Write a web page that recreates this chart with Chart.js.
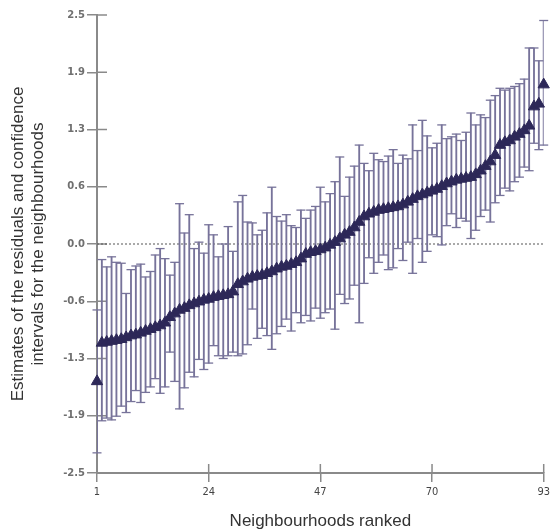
<!DOCTYPE html>
<html>
<head>
<meta charset="utf-8">
<script src="https://cdn.jsdelivr.net/npm/chart.js@4.4.1/dist/chart.umd.min.js"></script>
<style>
  body { margin: 0; background: #fff; }
  #wrap { width: 554px; height: 532px; }
</style>
</head>
<body>
<div id="wrap"><canvas id="c"></canvas></div>
<script>
// ranked neighbourhoods 1..93
const rank = Array.from({ length: 93 }, (_, i) => i + 1)

// residual estimates (triangles)
const est = [
  -1.50, -1.08, -1.07, -1.06, -1.05, -1.04, -1.02, -1.00, -0.99, -0.97,
  -0.95, -0.93, -0.91, -0.89, -0.86, -0.80, -0.76, -0.72, -0.70, -0.67,
  -0.65, -0.63, -0.61, -0.60, -0.58, -0.57, -0.56, -0.55, -0.52, -0.44,
  -0.41, -0.38, -0.36, -0.35, -0.34, -0.32, -0.30, -0.27, -0.25, -0.24,
  -0.22, -0.20, -0.16, -0.11, -0.09, -0.08, -0.06, -0.04, -0.01, 0.02,
  0.06, 0.10, 0.13, 0.18, 0.24, 0.30, 0.33, 0.35, 0.37, 0.38,
  0.39, 0.40, 0.41, 0.43, 0.46, 0.49, 0.52, 0.54, 0.56, 0.58,
  0.60, 0.63, 0.66, 0.68, 0.70, 0.71, 0.72, 0.73, 0.76, 0.80,
  0.85, 0.90, 0.97, 1.08, 1.11, 1.13, 1.17, 1.20, 1.24, 1.29,
  1.50, 1.53, 1.74
]

// lower / upper confidence limits
const lower = [
  -2.28, -1.93, -1.90, -1.92, -1.88, -1.77, -1.84, -1.72, -1.60, -1.73,
  -1.62, -1.56, -1.47, -1.63, -1.56, -1.18, -1.50, -1.80, -1.57, -1.40,
  -1.45, -1.26, -1.37, -1.30, -1.11, -1.22, -1.25, -1.22, -1.18, -1.22,
  -1.20, -1.10, -0.71, -1.03, -0.92, -1.00, -1.15, -0.98, -0.90, -0.82,
  -0.95, -0.75, -0.86, -0.78, -0.84, -0.70, -0.81, -0.75, -0.71, -0.93,
  -0.55, -0.65, -0.60, -0.45, -0.86, -0.43, -0.15, -0.32, -0.20, -0.12,
  -0.28, -0.26, -0.05, -0.18, 0.02, -0.32, 0.06, -0.20, -0.08, 0.10,
  0.08, -0.01, 0.20, 0.33, 0.18, 0.28, 0.25, 0.06, 0.15, 0.30,
  0.37, 0.24, 0.45, 0.53, 0.61, 0.58, 0.68, 0.73, 0.84, 0.80,
  1.10, 1.03, 1.08
]
const upper = [
  -0.72, -0.17, -0.25, -0.14, -0.20, -0.21, -0.54, -0.28, -0.24, -0.22,
  -0.36, -0.30, -0.12, -0.05, -0.16, -0.34, -0.20, 0.44, 0.12, 0.32,
  -0.05, 0.02, -0.10, 0.21, 0.10, -0.14, 0.00, 0.19, -0.08, 0.46,
  0.53, 0.24, 0.23, 0.10, 0.15, 0.34, 0.62, 0.30, 0.25, 0.32,
  0.20, 0.18, 0.37, 0.28, 0.37, 0.41, 0.62, 0.46, 0.55, 0.68,
  0.95, 0.52, 0.73, 0.85, 1.08, 0.88, 0.80, 0.99, 0.92, 0.90,
  0.96, 1.03, 0.88, 0.97, 0.93, 1.30, 1.02, 1.35, 1.18, 1.05,
  1.10, 1.30, 1.15, 1.17, 1.20, 1.13, 1.22, 1.43, 1.30, 1.41,
  1.38, 1.57, 1.62, 1.70, 1.68, 1.70, 1.72, 1.75, 1.80, 2.14,
  2.14, 2.00, 2.44
]

const xTicks = [1, 24, 47, 70, 93]
const yTicks = [-2.5, -1.875, -1.25, -0.625, 0, 0.625, 1.25, 1.875, 2.5]
const yTickLabels = ["-2.5", "-1.9", "-1.3", "-0.6", "0.0", "0.6", "1.3", "1.9", "2.5"]

const axisGray = "#8a8a8a"
const barColor = "#77739a"
const markColor = "#2d2858"

// draws the part of each tick mark that sits inside the plot
const innerTicks = {
    id: "innerTicks",
    beforeDatasetsDraw(chart) {
        const { ctx, chartArea, scales } = chart
        ctx.save()
        ctx.strokeStyle = axisGray
        ctx.lineWidth = 1.5
        ctx.beginPath()
        scales.y.ticks.forEach((t, i) => {
            const py = scales.y.getPixelForValue(t.value)
            ctx.moveTo(chartArea.left, py)
            ctx.lineTo(chartArea.left + 10, py)
        })
        scales.x.ticks.forEach((t, i) => {
            const px = scales.x.getPixelForValue(t.value)
            ctx.moveTo(px, chartArea.bottom)
            ctx.lineTo(px, chartArea.bottom - 9)
        })
        ctx.stroke()
        ctx.restore()
    }
}

const caps = []
rank.forEach((r, i) => {
    caps.push({ x: r, y: lower[i] })
    caps.push({ x: r, y: upper[i] })
})

new Chart(document.getElementById("c"), {
    type: "scatter",
    data: {
        datasets: [
            {
                type: "scatter",
                data: rank.map((r, i) => ({ x: r, y: est[i] })),
                pointStyle: "triangle",
                pointRadius: 6.5,
                backgroundColor: markColor,
                borderColor: markColor,
                borderWidth: 1,
                clip: false,
                order: 0
            },
            {
                type: "scatter",
                data: caps,
                pointStyle: "line",
                pointRadius: 4.5,
                borderColor: barColor,
                borderWidth: 1.3,
                clip: false,
                order: 1
            },
            {
                type: "bar",
                data: rank.map((r, i) => ({ x: r, y: [lower[i], upper[i]] })),
                backgroundColor: barColor,
                barThickness: 1.2,
                order: 2
            },
            {
                type: "line",
                data: [{ x: 1, y: 0 }, { x: 93, y: 0 }],
                borderColor: "#555",
                borderWidth: 1,
                borderDash: [2, 2],
                pointRadius: 0,
                order: 3
            }
        ]
    },
    options: {
        responsive: true,
        maintainAspectRatio: false,
        animation: false,
        layout: { padding: { top: 15, right: 4, left: 0, bottom: 0 } },
        plugins: {
            legend: { display: false },
            tooltip: { enabled: false }
        },
        scales: {
            x: {
                type: "linear",
                min: 1,
                max: 93,
                offset: false,
                afterBuildTicks: s => { s.ticks = xTicks.map(v => ({ value: v })) },
                afterFit: s => { s.height = 59 },
                grid: { offset: false, drawOnChartArea: false, tickLength: 9, color: axisGray, lineWidth: 1.5 },
                border: { display: true, color: axisGray, width: 2 },
                ticks: {
                    autoSkip: false,
                    maxRotation: 0,
                    padding: 4,
                    color: "#444",
                    font: { family: "'Liberation Sans Narrow', 'DejaVu Sans Condensed', sans-serif", size: 11 },
                    callback: v => String(v)
                },
                title: {
                    display: true,
                    text: "Neighbourhoods ranked",
                    color: "#333",
                    padding: { top: 0, bottom: 0 },
                    font: { family: "'Liberation Sans', Arial, sans-serif", size: 17 }
                }
            },
            y: {
                min: -2.5,
                max: 2.5,
                afterBuildTicks: s => { s.ticks = yTicks.map(v => ({ value: v })) },
                afterFit: s => { s.width = 97 },
                grid: { drawOnChartArea: false, tickLength: 10, color: axisGray, lineWidth: 1.5 },
                border: { display: true, color: axisGray, width: 2 },
                ticks: {
                    padding: 2,
                    color: "#707070",
                    font: { family: "'DejaVu Sans', sans-serif", size: 10, weight: "bold" },
                    callback: (v, i) => yTickLabels[i]
                },
                title: {
                    display: true,
                    text: ["Estimates of the residuals and confidence", "intervals for the neighbourhoods"],
                    color: "#333",
                    padding: { top: 8, bottom: 0 },
                    font: { family: "'Liberation Sans', Arial, sans-serif", size: 17, lineHeight: 1.18 }
                }
            }
        }
    },
    plugins: [innerTicks]
})
</script>
</body>
</html>
